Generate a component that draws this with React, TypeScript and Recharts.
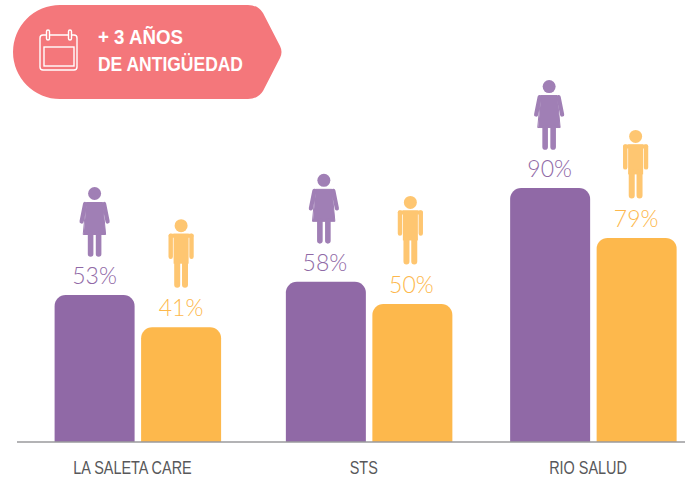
import { Bar, BarChart, Rectangle, XAxis, YAxis } from "recharts";

const categories = ["LA SALETA CARE", "STS", "RIO SALUD"];
// plotted bar heights as drawn in the picture, printed labels are kept apart
const womenValues = [52.5, 57.2, 90.7];
const menValues = [41, 49.3, 72.9];
const womenLabels = ["53%", "58%", "90%"];
const menLabels = ["41%", "50%", "79%"];

const data = categories.map((name, i) => ({ name, women: womenValues[i], men: menValues[i] }));

const PURPLE = "#9069A6";
const ORANGE = "#FDB84C";
const PURPLE_LIGHT = "#A07FB5";
const ORANGE_LIGHT = "#FEC671";
const CORAL = "#F4777B";
// the middle group sits a little right of an even spacing in the original
const groupNudge = [0, 3.5, 0];
// figures and labels are not quite centred over their bars
const figureNudge = [0, -2, -1];
const labelNudge = [0, -1, -0.5];

function Woman({ color }: { color: string }) {
  return (
    <g fill={color} stroke={color} strokeLinecap="round">
      <circle r={6.5} stroke="none" />
      <path d="M-8 9H8L11 41H-11Z" strokeWidth={1} strokeLinejoin="round" />
      <path d="M-9.5 10.5L-13 28M9.5 10.5L13 28" strokeWidth={4.2} fill="none" />
      <path d="M-4 41V60.5M4 41V60.5" strokeWidth={5.6} fill="none" />
    </g>
  );
}

function Man({ color }: { color: string }) {
  return (
    <g fill={color} stroke={color} strokeLinecap="round">
      <circle r={6.5} stroke="none" />
      <rect x={-12.5} y={8} width={25} height={4} rx={2} stroke="none" />
      <rect x={-7.5} y={8} width={15} height={30} stroke="none" />
      <path d="M-10.4 10V31M10.4 10V31" strokeWidth={4.4} fill="none" />
      <path d="M-3.9 36V59M3.9 36V59" strokeWidth={6} fill="none" />
    </g>
  );
}

function makeShape(fill: string, light: string, textFill: string, labels: string[], Figure: typeof Woman) {
  return (props: any) => {
    const { x, y, width, height, index } = props;
    const cx = x + width / 2;
    return (
      <g transform={`translate(${groupNudge[index]} 0)`}>
        <Rectangle x={x} y={y} width={width} height={height} fill={fill} radius={[11, 11, 0, 0]} />
        <text
          x={cx + labelNudge[index]}
          y={y - 11}
          textAnchor="middle"
          fontFamily="Lato, sans-serif"
          fontWeight={300}
          fontSize={23}
          fill={textFill}
        >
          {labels[index]}
        </text>
        <g transform={`translate(${cx + figureNudge[index]} ${y - 101.5})`}>
          <Figure color={light} />
        </g>
      </g>
    );
  };
}

function CategoryTick({ x, y, payload, index }: any) {
  return (
    <text
      transform={`translate(${x - 5 + groupNudge[index]} ${y + 24}) scale(0.76 1)`}
      textAnchor="middle"
      fontFamily="'Liberation Sans', sans-serif"
      fontSize={19}
      fill="#58585A"
    >
      {payload.value}
    </text>
  );
}

function Banner() {
  return (
    <svg width={300} height={110} style={{ position: "absolute", left: 0, top: 0 }}>
      <path
        d="M60 5H248Q258 5 263 13L280 46Q283 52 280 58L263 91Q258 99 248 99H60A47 47 0 0 1 60 5Z"
        fill={CORAL}
      />
      <g fill="none" stroke="#fff" strokeWidth={1.4}>
        <rect x={40} y={35} width={37} height={35} rx={3} />
        <rect x={44} y={47} width={30} height={19} />
        <rect x={46.5} y={30} width={3} height={10} rx={1.5} fill={CORAL} />
        <rect x={68.5} y={30} width={3} height={10} rx={1.5} fill={CORAL} />
      </g>
      <g fill="#fff" fontFamily="'Liberation Sans', sans-serif" fontWeight={700} fontSize={20}>
        <text x={98} y={44} textLength={85} lengthAdjust="spacingAndGlyphs">+ 3 AÑOS</text>
        <text x={98} y={71} textLength={145} lengthAdjust="spacingAndGlyphs">DE ANTIGÜEDAD</text>
      </g>
    </svg>
  );
}

export default function App() {
  return (
    <div style={{ position: "absolute", left: 0, top: 0, width: 685, height: 479, overflow: "hidden", background: "#fff" }}>
      <BarChart
        width={685}
        height={479}
        data={data}
        margin={{ top: 22, right: 0, bottom: 0, left: 17 }}
        barSize={80}
        barGap={6.5}
      >
        <XAxis
          dataKey="name"
          height={37}
          tickLine={false}
          axisLine={{ stroke: "#9A9A9C", strokeWidth: 1.5 }}
          padding={{ left: 6.6, right: -21.9 }}
          tick={<CategoryTick />}
          interval={0}
        />
        <YAxis hide domain={[0, 150]} />
        <Bar dataKey="women" isAnimationActive={false} shape={makeShape(PURPLE, PURPLE_LIGHT, PURPLE, womenLabels, Woman)} />
        <Bar dataKey="men" isAnimationActive={false} shape={makeShape(ORANGE, ORANGE_LIGHT, ORANGE, menLabels, Man)} />
      </BarChart>
      <Banner />
    </div>
  );
}
